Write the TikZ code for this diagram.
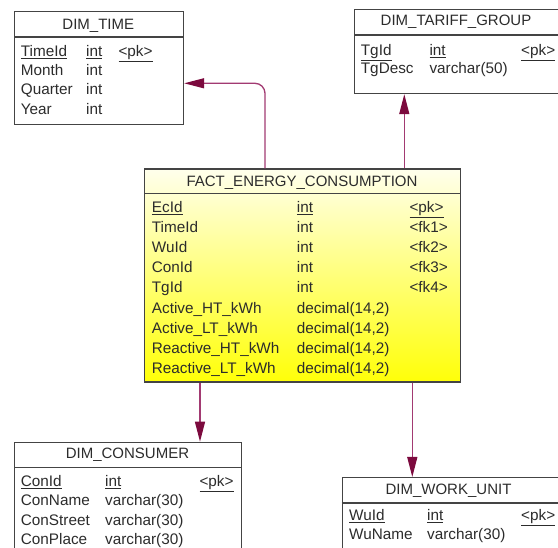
\documentclass[tikz,border=0pt]{standalone}
\usepackage{fontspec}
\setmainfont{Liberation Sans}
\usetikzlibrary{arrows.meta}

\definecolor{ink}{HTML}{2C2C2C}
\definecolor{frame}{HTML}{444444}
\definecolor{relline}{HTML}{A23A72}
\definecolor{relhead}{HTML}{7C0A3E}
\definecolor{paleyellow}{HTML}{FFFFEC}
\definecolor{midyellow}{HTML}{FFFF9C}
\definecolor{deepyellow}{HTML}{FFFF08}

\tikzset{
  tbl/.style={draw=frame, line width=1.2pt, rectangle, inner sep=0pt,
    anchor=north west, fill=white},
  divider/.style={draw=frame, line width=1.1pt},
  fld/.style={anchor=base west, inner sep=0pt, text=ink,
    font=\fontsize{15.3}{17}\selectfont},
  ttl/.style={anchor=base, inner sep=0pt, text=ink,
    font=\fontsize{15}{17}\selectfont},
  rel/.style={draw=relline, line width=1.3pt,
    -{Triangle[length=20pt,width=10pt,color=relhead]}}
}

\begin{document}
\begin{tikzpicture}[x=1pt,y=-1pt]
\useasboundingbox (0,0) rectangle (558,548);
\clip (0,0) rectangle (558,548);

% ---------- table frames ----------
\node[tbl, minimum width=169pt, minimum height=113pt] (time) at (14,11) {};
\node[tbl, minimum width=210pt, minimum height=84pt] (tariff) at (354,9) {};
\node[tbl, minimum width=316pt, minimum height=213pt,
      shading=axis, shading angle=45, top color=paleyellow,
      middle color=midyellow, bottom color=deepyellow] (fact) at (144,168.5) {};
\node[tbl, minimum width=227pt, minimum height=120pt] (cons) at (14,441.7) {};
\node[tbl, minimum width=222pt, minimum height=90pt] (wu) at (341.7,477) {};

% header dividers
\draw[divider] ([yshift=-26pt]time.north west) -- ([yshift=-26pt]time.north east);
\draw[divider] ([yshift=-26pt]tariff.north west) -- ([yshift=-26pt]tariff.north east);
\draw[divider] ([yshift=-25pt]fact.north west) -- ([yshift=-25pt]fact.north east);
\draw[divider] ([yshift=-25.6pt]cons.north west) -- ([yshift=-25.6pt]cons.north east);
\draw[divider] ([yshift=-26pt]wu.north west) -- ([yshift=-26pt]wu.north east);

% ---------- titles ----------
\node[ttl] (time-t) at (98.3,29.4) {DIM\_TIME};
\node[ttl] (tariff-t) at (456,26) {DIM\_TARIFF\_GROUP};
\node[ttl] (fact-t) at (302,186.1) {FACT\_ENERGY\_CONSUMPTION};
\node[ttl] (cons-t) at (127.5,458.8) {DIM\_CONSUMER};
\node[ttl] (wu-t) at (448.5,494.8) {DIM\_WORK\_UNIT};

% ---------- DIM_TIME ----------
\node[fld] (time-k) at (20.7,56.2) {\underline{TimeId}};
\node[fld] (time-kt) at (86,56.2) {\underline{int}};
\node[fld] (time-kp) at (118.3,56.2) {\underline{<pk>}};
\foreach [count=\i] \a in {Month,Quarter,Year}{
  \node[fld] (time-n\i) at (20.7,56.2+19.33*\i) {\a};
  \node[fld] (time-y\i) at (86,56.2+19.33*\i) {int};
}

% ---------- DIM_TARIFF_GROUP ----------
\node[fld] (tariff-k) at (360.7,55.5) {\underline{TgId}};
\node[fld] (tariff-kt) at (429.3,55.5) {\underline{int}};
\node[fld] (tariff-kp) at (521,55.5) {\underline{<pk>}};
\node[fld] (tariff-n1) at (360.7,73.8) {TgDesc};
\node[fld] (tariff-y1) at (429.3,73.8) {varchar(50)};

% ---------- FACT_ENERGY_CONSUMPTION ----------
\node[fld] (fact-k) at (151.7,212.2) {\underline{EcId}};
\node[fld] (fact-kt) at (296.7,212.2) {\underline{int}};
\node[fld] (fact-kp) at (409.3,212.2) {\underline{<pk>}};
\foreach [count=\i] \a/\c in {TimeId/{<fk1>},WuId/{<fk2>},ConId/{<fk3>},TgId/{<fk4>}}{
  \node[fld] (fact-n\i) at (151.7,212.2+20.2*\i) {\a};
  \node[fld] (fact-y\i) at (296.7,212.2+20.2*\i) {int};
  \node[fld] (fact-f\i) at (409.3,212.2+20.2*\i) {\c};
}
\foreach [count=\i from 5] \a in {Active\_HT\_kWh,Active\_LT\_kWh,Reactive\_HT\_kWh,Reactive\_LT\_kWh}{
  \node[fld] (fact-n\i) at (151.7,212.2+20.2*\i) {\a};
  \node[fld] (fact-y\i) at (296.7,212.2+20.2*\i) {decimal(14,2)};
}

% ---------- DIM_CONSUMER ----------
\node[fld] (cons-k) at (20.7,486.2) {\underline{ConId}};
\node[fld] (cons-kt) at (105,486.2) {\underline{int}};
\node[fld] (cons-kp) at (199.3,486.2) {\underline{<pk>}};
\foreach [count=\i] \a in {ConName,ConStreet,ConPlace}{
  \node[fld] (cons-n\i) at (20.7,486.2+19.5*\i) {\a};
  \node[fld] (cons-y\i) at (105,486.2+19.5*\i) {varchar(30)};
}

% ---------- DIM_WORK_UNIT ----------
\node[fld] (wu-k) at (349,520.5) {\underline{WuId}};
\node[fld] (wu-kt) at (427,520.5) {\underline{int}};
\node[fld] (wu-kp) at (521,520.5) {\underline{<pk>}};
\node[fld] (wu-n1) at (349,539.5) {WuName};
\node[fld] (wu-y1) at (427,539.5) {varchar(30)};

% ---------- references ----------
\draw[rel, rounded corners=10pt] ([xshift=121pt]fact.north west)
  |- ([yshift=-15.2pt]time.east);
\draw[rel] ([xshift=260.3pt]fact.north west) -- ([xshift=50.3pt]tariff.south west);
\draw[rel] ([xshift=56pt]fact.south west) -- ([xshift=186pt]cons.north west);
\draw[rel] ([xshift=268.3pt]fact.south west) -- ([xshift=70.6pt]wu.north west);
\end{tikzpicture}
\end{document}
